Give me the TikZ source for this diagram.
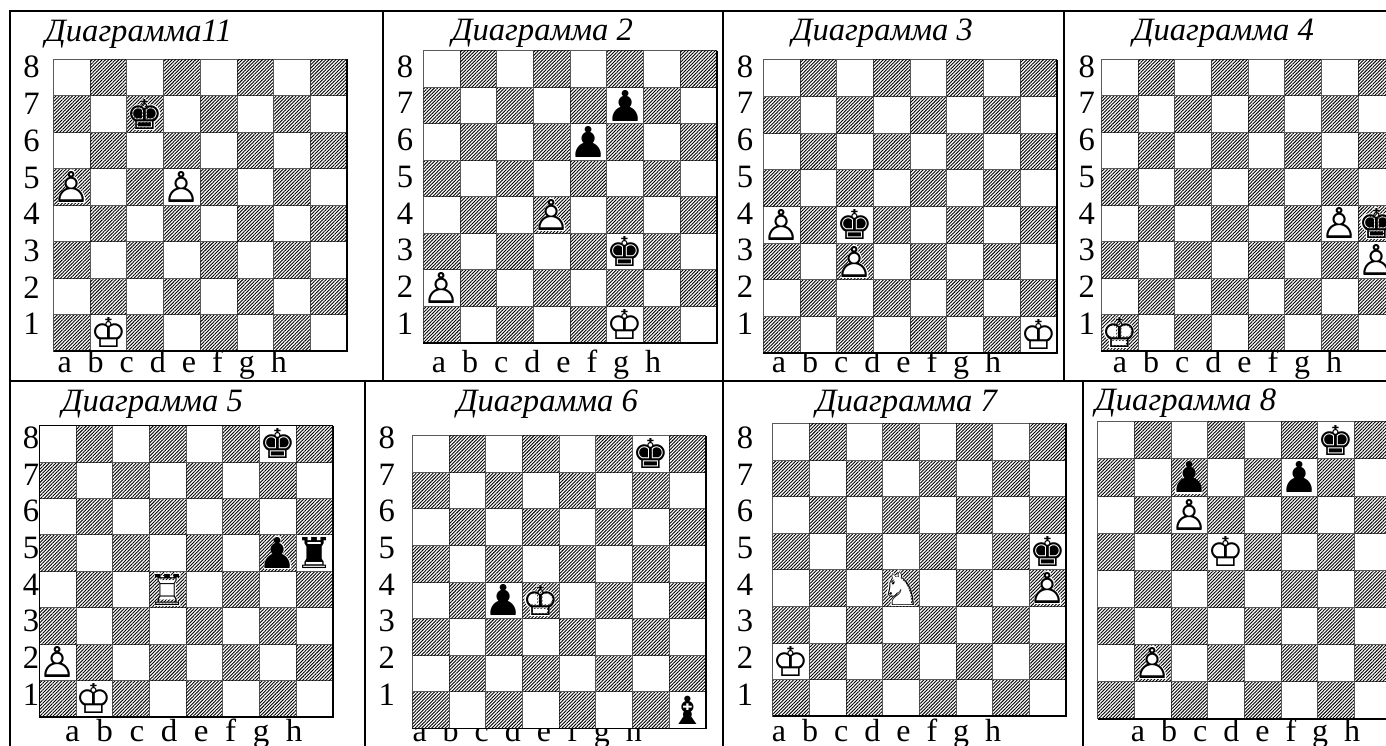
\documentclass[tikz,border=0pt]{standalone}
\usepackage{fontspec}
\setmainfont{Liberation Serif}
\newfontfamily\chessfont{DejaVu Sans}
\usetikzlibrary{patterns.meta}
\definecolor{cgrid}{HTML}{5A5A5A}
\newcommand{\txtfont}{\fontsize{32.6}{33}\selectfont}
\tikzset{
  every node/.style={inner sep=0pt},
  frameline/.style={draw=black, line width=2pt},
  title/.style={font=\txtfont\itshape, anchor=base west},
  label/.style={font=\txtfont, anchor=base},
  files/.style={font=\fontsize{32}{33}\selectfont, anchor=base west},
  light/.style={fill=white, draw=cgrid, line width=1pt},
  dark/.style={fill=white, postaction={pattern={Lines[angle=45,distance=2.36pt,line width=0.9pt]}, pattern color=black}, draw=cgrid, line width=1pt},
  halo/.style={font=\chessfont\fontsize{41}{41}\selectfont, text=white},
  piece/.style={font=\chessfont\fontsize{38}{38}\selectfont},
}
\newcommand{\pc}[5]{ % col, row, size, under, glyph
  \node[halo, scale=#3] (u#1#2) at (#1-0.5,8.5-#2) {#4};
  \node[piece, scale=#3] (p#1#2) at (#1-0.5,8.5-#2) {#5};
}
\newcommand{\wK}[2]{\pc{#1}{#2}{1.08}{♚}{♔}}
\newcommand{\bK}[2]{\pc{#1}{#2}{1.08}{♚}{♚}}
\newcommand{\wP}[2]{\pc{#1}{#2}{1.12}{♟}{♙}}
\newcommand{\bP}[2]{\pc{#1}{#2}{1.12}{♟}{♟}}
\newcommand{\wR}[2]{\pc{#1}{#2}{1.12}{♜}{♖}}
\newcommand{\bR}[2]{\pc{#1}{#2}{1.12}{♜}{♜}}
\newcommand{\wN}[2]{\pc{#1}{#2}{1.22}{♞}{♘}}
\newcommand{\bB}[2]{\pc{#1}{#2}{1.02}{♝}{♝}}
\newcommand{\board}[4]{ % x, y, cell height, pieces
  \begin{scope}[shift={(#1,#2)}, x=36.7pt, y=-#3pt]
    \foreach \c in {1,...,8} \foreach \r in {1,...,8} {
      \ifodd\numexpr\c+\r\relax\def\sq{light}\else\def\sq{dark}\fi
      \draw[\sq] (\c-1,8-\r) rectangle ++(1,1);
    }
    \draw[black, line width=1.8pt] (0,8) -- (8,8) -- (8,0);
    #4
  \end{scope}
}
\newcommand{\ranks}[2]{ % x, baseline of the 8
  \foreach \n in {1,...,8}
    \node[label] (r\n) at (#1,#2+36.7*8-36.7*\n) {\n};
}
\newcommand{\flabels}[3][1]{ % xscale, x, baseline
  \node[files, xscale=#1] (fl) at (#2,#3) {a\ \ b\ \ c\ \ d\ \ e\ \ f\ \ g\ \ h};
}

\begin{document}
\begin{tikzpicture}[x=1pt, y=-1pt]
  \clip (0,0) rectangle (1386,746);
  % frame
  \draw[frameline] (10,746) -- (10,11) -- (1386,11);
  \draw[frameline] (10,380.8) -- (1386,380.8);
  \draw[frameline] (382.7,11) -- (382.7,380.8);
  \draw[frameline] (723,11) -- (723,746);
  \draw[frameline] (1063.5,11) -- (1063.5,380.8);
  \draw[frameline] (365,380.8) -- (365,746);
  \draw[frameline] (1082.7,380.8) -- (1082.7,746);
  % top row
  \begin{scope}[name prefix=d1-]
    \node[title] (head) at (45,41.5) {Диаграмма11};
    \ranks{31.5}{78}
    \flabels{57.3}{372.7}
    \board{53.5}{59.5}{36.45}{\bK{3}{7} \wP{1}{5} \wP{4}{5} \wK{2}{1}}
  \end{scope}
  \begin{scope}[name prefix=d2-]
    \node[title] (head) at (451.7,40.7) {Диаграмма 2};
    \ranks{405}{77.3}
    \flabels{431.7}{372.7}
    \board{423.3}{51}{36.45}{\bP{6}{7} \bP{5}{6} \wP{4}{4} \wP{1}{2} \bK{6}{3} \wK{6}{1}}
  \end{scope}
  \begin{scope}[name prefix=d3-]
    \node[title] (head) at (791.7,40.7) {Диаграмма 3};
    \ranks{745}{77.3}
    \flabels{771.7}{372.7}
    \board{763.3}{60}{36.65}{\wP{1}{4} \bK{3}{4} \wP{3}{3} \wK{8}{1}}
  \end{scope}
  \begin{scope}[name prefix=d4-]
    \node[title] (head) at (1132.7,40.7) {Диаграмма 4};
    \ranks{1086.7}{77.3}
    \flabels{1112.7}{372.7}
    \board{1101.3}{59.3}{36.45}{\wP{7}{4} \bK{8}{4} \wP{8}{3} \wK{1}{1}}
  \end{scope}
  % bottom row
  \begin{scope}[name prefix=d5-]
    \node[title] (head) at (61.7,411.7) {Диаграмма 5};
    \ranks{31}{448.3}
    \flabels[1.035]{65}{741.7}
    \board{39.3}{425.7}{36.4}{\bK{7}{8} \bP{7}{5} \bR{8}{5} \wR{4}{4} \wP{1}{2} \wK{2}{1}}
    \draw[black, line width=1.4pt] (39.3,717) -- (39.3,425.7) -- (333,425.7);
  \end{scope}
  \begin{scope}[name prefix=d6-]
    \node[title] (head) at (456.7,411.7) {Диаграмма 6};
    \ranks{386.7}{448.3}
    \flabels{412.3}{741.7}
    \board{412.3}{435.7}{36.6}{\bK{7}{8} \bP{3}{4} \wK{4}{4} \bB{8}{1}}
  \end{scope}
  \begin{scope}[name prefix=d7-]
    \node[title] (head) at (815.7,411) {Диаграмма 7};
    \ranks{745}{448.3}
    \flabels{771.7}{741.7}
    \board{772.7}{423.7}{36.55}{\bK{8}{5} \wP{8}{4} \wN{4}{4} \wK{1}{2}}
  \end{scope}
  \begin{scope}[name prefix=d8-]
    \node[title] (head) at (1095,410.7) {Диаграмма 8};
    \flabels{1130.7}{741.7}
    \board{1097.7}{421.7}{37.15}{\bK{7}{8} \bP{3}{7} \bP{6}{7} \wP{3}{6} \wK{4}{5} \wP{2}{2}}
  \end{scope}
\end{tikzpicture}
\end{document}
